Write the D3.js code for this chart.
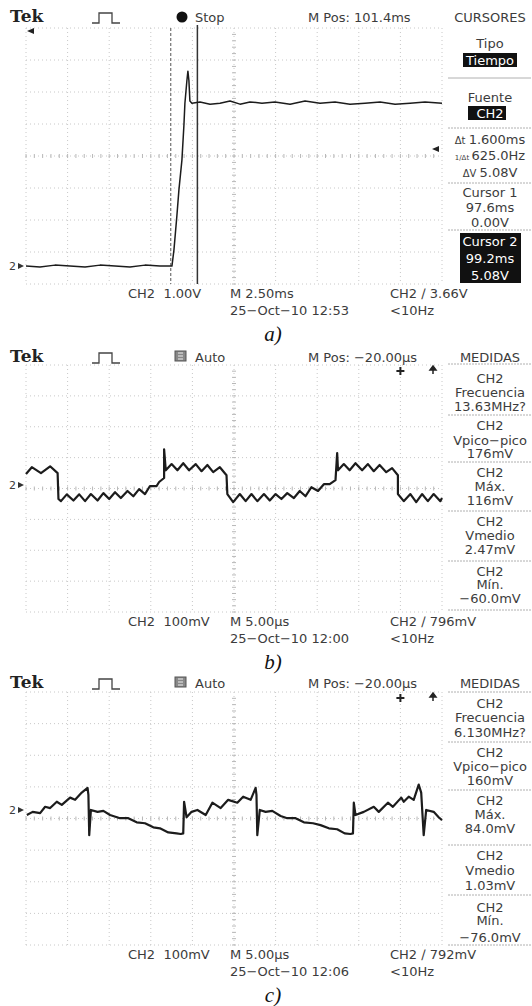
<!DOCTYPE html>
<html lang="es">
  <meta charset="UTF-8" />
  <title>Tek CH2</title>
  <style>
    body { margin: 0; background: #fff; }
    text { font-family: "DejaVu Sans", sans-serif; font-size: 13px; fill: #3c3c3c; white-space: pre; }
  </style>
  <script src="https://d3js.org/d3.v7.min.js"></script>
  <body>
    <div id="chart"></div>
    <script>
      // a) step response, time in ms, CH2 in V
      let traceA = [
        [88.9, 0], [89.74, -0.03], [90.64, 0.03], [91.54, 0], [92.45, -0.03], [93.35, 0.03],
        [94.25, 0], [95.15, -0.03], [96.05, 0.03], [96.95, 0], [97.67, 0],
        [97.79, 0.5], [97.97, 1.59], [98.09, 2.38], [98.27, 3.31], [98.39, 4.4], [98.45, 5.09],
        [98.57, 5.8], [98.63, 6.09], [98.69, 5.8], [98.75, 5.16], [98.87, 5.09],
        [99.36, 5.13], [99.96, 5.06], [100.56, 5.09], [101.16, 5.16], [101.76, 5.06], [102.36, 5.13],
        [103.08, 5.09], [103.86, 5.13], [104.77, 5.06], [105.67, 5.16], [106.57, 5.09], [107.47, 5.13],
        [108.37, 5.06], [109.27, 5.09], [110.18, 5.13], [111.08, 5.06], [111.98, 5.09], [112.88, 5.13],
        [113.9, 5.09]
      ];
      // b) ripple, time in us, CH2 in mV
      let traceB = [
        [-45.0, 36], [-44.3, 58], [-43.2, 39], [-42.1, 61], [-41.2, 39], [-41.1, -45],
        [-40.8, -52], [-40.1, -30], [-39.3, -50], [-38.6, -30], [-37.9, -52], [-37.2, -29], [-36.4, -50],
        [-35.7, -26], [-35.0, -45], [-34.3, -23], [-33.6, -42], [-32.8, -19], [-32.1, -36], [-31.4, -13],
        [-30.7, -29], [-30.1, -3], [-29.3, -3], [-29.0, 10], [-28.4, 23], [-28.4, 116], [-28.2, 48],
        [-27.5, 68], [-26.8, 48], [-26.1, 71], [-25.4, 48], [-24.6, 68], [-23.9, 45], [-23.2, 65],
        [-22.5, 42], [-21.7, 58], [-20.9, 32], [-20.8, -29],
        [-20.1, -55], [-19.3, -29], [-18.6, -52], [-17.9, -29], [-17.2, -52], [-16.4, -29], [-15.7, -50],
        [-15.0, -29], [-14.3, -45], [-13.6, -26], [-12.8, -42], [-12.1, -19], [-11.4, -36], [-10.7, -7],
        [-9.9, -19], [-9.2, 3], [-8.5, 3], [-7.8, 16], [-7.6, 104], [-7.5, 48],
        [-6.8, 68], [-6.1, 48], [-5.4, 71], [-4.6, 48], [-3.9, 68], [-3.2, 45], [-2.5, 65],
        [-1.7, 42], [-1.0, 55], [-0.3, 32], [-0.3, -29],
        [0.4, -52], [1.2, -29], [1.9, -55], [2.6, -29], [3.3, -52], [4.0, -29], [4.8, -52], [5.0, -42]
      ];
      // c) ripple, time in us, CH2 in mV
      let traceC = [
        [-44.9, -16], [-44.2, -6], [-43.3, -10], [-42.7, 10], [-42.1, 6], [-41.3, 26], [-40.7, 16],
        [-39.7, 39], [-39.1, 32], [-38.3, 55], [-37.6, 70], [-37.5, 48], [-37.4, -80], [-37.2, 0],
        [-36.4, -6], [-35.7, -3], [-34.9, -16], [-33.7, -26], [-32.7, -26], [-31.7, -39], [-30.7, -42],
        [-29.7, -55], [-28.9, -58], [-27.9, -71], [-26.9, -74], [-26.4, -76], [-26.1, -74],
        [-26.0, 26], [-25.7, -23], [-25.1, -6], [-24.4, 0], [-23.4, -16], [-22.6, 23], [-21.6, 6],
        [-20.7, 32], [-19.6, 23], [-18.9, 42], [-18.0, 32], [-17.4, 70], [-17.3, 48], [-17.2, -80],
        [-16.9, 0], [-16.2, -6], [-15.4, -3], [-14.4, -19], [-13.6, -26], [-12.6, -26], [-11.6, -39],
        [-10.5, -42], [-9.6, -48], [-8.6, -58], [-7.6, -61], [-6.7, -74], [-6.0, -76], [-5.7, -74],
        [-5.6, 23], [-5.4, -16], [-4.4, -6], [-3.2, 10], [-2.6, -6], [-1.5, 23], [-0.9, 10],
        [0.1, 39], [0.4, 26], [1.0, 42], [1.6, 32], [2.2, 80], [2.5, 55], [2.8, -80], [3.1, 0],
        [4.0, -6], [4.6, -23], [5.0, -32]
      ];
      let cursorsA = [97.6, 99.2]; // ms
      let trigLevelA = 3.66; // V

      let headA = ["Tek", "Stop", "M Pos: 101.4ms", "CURSORES"];
      let headB = ["Tek", "Auto", "M Pos: −20.00µs", "MEDIDAS"];
      let headC = ["Tek", "Auto", "M Pos: −20.00µs", "MEDIDAS"];

      let footA = ["CH2  1.00V", "M 2.50ms", "25−Oct−10 12:53", "CH2 ∕ 3.66V", "<10Hz"];
      let footB = ["CH2  100mV", "M 5.00µs", "25−Oct−10 12:00", "CH2 ∕ 796mV", "<10Hz"];
      let footC = ["CH2  100mV", "M 5.00µs", "25−Oct−10 12:06", "CH2 ∕ 792mV", "<10Hz"];

      let menuA = [
        ["Tipo", "Tiempo"],
        ["Fuente", "CH2"],
        ["Δt 1.600ms", "1/Δt 625.0Hz", "ΔV 5.08V"],
        ["Cursor 1", "97.6ms", "0.00V"],
        ["Cursor 2", "99.2ms", "5.08V"]
      ];
      let measB = [
        ["CH2", "Frecuencia", "13.63MHz?"],
        ["CH2", "Vpico−pico", "176mV"],
        ["CH2", "Máx.", "116mV"],
        ["CH2", "Vmedio", "2.47mV"],
        ["CH2", "Mín.", "−60.0mV"]
      ];
      let measC = [
        ["CH2", "Frecuencia", "6.130MHz?"],
        ["CH2", "Vpico−pico", "160mV"],
        ["CH2", "Máx.", "84.0mV"],
        ["CH2", "Vmedio", "1.03mV"],
        ["CH2", "Mín.", "−76.0mV"]
      ];
      let captions = ["a)", "b)", "c)"];

      // screen layout
      const gridL = 26, gridR = 442, menuX = 490;
      const panels = [
        {
          top: 28, bottom: 284, head: 22, off: -3.44, perDiv: 1, xDomain: [88.9, 113.9],
          trace: traceA, lw: 1.5, headTxt: headA, foot: footA, menu: menuA, caption: captions[0],
          menuY: [[43, 60], [97, 113], [139, 155, 172], [192, 207, 222], [241, 258, 275]],
          sepY: [78, 128, 183, 230],
          boxes: [[463, 517, 53, 67], [468, 506, 106, 120], [460, 521, 233, 283]]
        },
        {
          top: 365, bottom: 612, head: 362, off: 0.11, perDiv: 100, xDomain: [-45, 5],
          trace: traceB, lw: 2.2, headTxt: headB, foot: footB, menu: measB, caption: captions[1],
          menuY: [[378, 392, 406], [425, 440, 453], [472, 486, 500], [521, 535, 549], [571, 584, 598]],
          sepY: [364, 415, 462, 511, 561, 610],
          boxes: []
        },
        {
          top: 692, bottom: 945, head: 688, off: 0.27, perDiv: 100, xDomain: [-45, 5],
          trace: traceC, lw: 2.2, headTxt: headC, foot: footC, menu: measC, caption: captions[2],
          menuY: [[703, 717, 732], [752, 766, 780], [800, 814, 828], [855, 870, 885], [907, 920, 937]],
          sepY: [692, 742, 790, 845, 895, 945],
          boxes: []
        }
      ];

      const svg = d3.select("#chart").append("svg").attr("width", 532).attr("height", 1006);

      function drawScope(p, idx) {
        const g = svg.append("g");
        const divX = d3.scaleLinear().domain([0, 10]).range([gridL, gridR]);
        const divY = d3.scaleLinear().domain([-4, 4]).range([p.bottom, p.top]);
        const x = d3.scaleLinear().domain(p.xDomain).range([gridL, gridR]);
        const y = d3.scaleLinear()
          .domain([(-4 - p.off) * p.perDiv, (4 - p.off) * p.perDiv])
          .range([p.bottom, p.top]);

        // graticule
        const grid = g.append("g").attr("stroke", "#c8c8c8").attr("stroke-width", 1).attr("stroke-dasharray", "1,3");
        grid.selectAll(".gx").data(d3.range(0, 11)).join("line")
          .attr("x1", (d) => divX(d)).attr("x2", (d) => divX(d))
          .attr("y1", p.top).attr("y2", p.bottom);
        grid.selectAll(".gy").data(d3.range(-4, 5)).join("line")
          .attr("x1", gridL).attr("x2", gridR)
          .attr("y1", (d) => divY(d)).attr("y2", (d) => divY(d));
        const ticks = g.append("g").attr("stroke", "#b8b8b8").attr("stroke-width", 1);
        ticks.selectAll(".tx").data(d3.range(0, 50)).join("line")
          .attr("x1", (d) => divX(d / 5)).attr("x2", (d) => divX(d / 5))
          .attr("y1", divY(0) - 2).attr("y2", divY(0) + 2);
        ticks.selectAll(".ty").data(d3.range(-20, 20)).join("line")
          .attr("x1", divX(5) - 2).attr("x2", divX(5) + 2)
          .attr("y1", (d) => divY(d / 5)).attr("y2", (d) => divY(d / 5));

        // cursors
        if (idx === 0) {
          g.append("line").attr("x1", x(cursorsA[0])).attr("x2", x(cursorsA[0]))
            .attr("y1", p.top).attr("y2", p.bottom)
            .attr("stroke", "#555").attr("stroke-dasharray", "3,2");
          g.append("line").attr("x1", x(cursorsA[1])).attr("x2", x(cursorsA[1]))
            .attr("y1", p.top - 3).attr("y2", p.bottom)
            .attr("stroke", "#333").attr("stroke-width", 1.5);
          // trigger level arrow and off-screen trigger position
          const ty = y(trigLevelA);
          g.append("path").attr("d", `M${gridR - 10},${ty} l7,-3 v6 z`).attr("fill", "#222");
          g.append("path").attr("d", `M${gridL + 1},${p.top + 3} l7,-3 v6 z`).attr("fill", "#222");
        } else {
          const tx = x(0);
          g.append("path").attr("d", `M${tx - 4},${p.top + 6} h8 M${tx},${p.top + 2} v8`)
            .attr("stroke", "#222").attr("stroke-width", 2);
          g.append("path").attr("d", `M${gridR - 9},${p.top + 1} l3,4 h-6 z M${gridR - 9},${p.top + 4} v5`)
            .attr("stroke", "#222").attr("fill", "#222").attr("stroke-width", 1.5);
        }

        // waveform
        const line = d3.line().x((d) => x(d[0])).y((d) => y(d[1]));
        g.append("path").datum(p.trace).attr("d", line)
          .attr("fill", "none").attr("stroke", "#1c1c1c")
          .attr("stroke-width", p.lw).attr("stroke-linejoin", "round");

        // channel ground marker
        const zy = y(0);
        g.append("text").attr("x", 9).attr("y", zy + 4).style("font-size", "11px").text("2");
        g.append("path").attr("d", `M18,${zy - 3} l6,3 l-6,3 z`).attr("fill", "#333");

        // header
        const h = p.head;
        g.append("text").attr("x", 10).attr("y", h)
          .style("font-family", "'DejaVu Serif', serif").style("font-weight", "bold")
          .style("font-size", "17px").style("fill", "#222").text(p.headTxt[0]);
        g.append("path").attr("d", `M92,${h + 1} h7 v-10 h13 v10 h8`)
          .attr("fill", "none").attr("stroke", "#444").attr("stroke-width", 1.3);
        if (p.headTxt[1] === "Stop") {
          g.append("circle").attr("cx", 182).attr("cy", h - 5).attr("r", 5.5).attr("fill", "#111");
        } else {
          g.append("rect").attr("x", 175).attr("y", h - 11).attr("width", 11).attr("height", 10)
            .attr("fill", "#888").attr("stroke", "#555");
          g.append("path").attr("d", `M178,${h - 9} h5 M178,${h - 6} h5 M178,${h - 3} h5`)
            .attr("stroke", "#eee").attr("stroke-width", 1);
        }
        g.append("text").attr("x", 195).attr("y", h).text(p.headTxt[1]);
        g.append("text").attr("x", 308).attr("y", h).text(p.headTxt[2]);
        g.append("text").attr("x", menuX).attr("y", h).attr("text-anchor", "middle").text(p.headTxt[3]);

        // menu column
        g.selectAll(".sep").data(p.sepY).join("line")
          .attr("x1", 448).attr("x2", 531).attr("y1", (d) => d).attr("y2", (d) => d)
          .attr("stroke", "#b0b0b0").attr("stroke-width", 1)
          .attr("stroke-dasharray", (d, i) => (idx === 0 && i === 0 ? null : "2,1"));
        g.selectAll(".box").data(p.boxes).join("rect")
          .attr("x", (d) => d[0]).attr("y", (d) => d[2])
          .attr("width", (d) => d[1] - d[0]).attr("height", (d) => d[3] - d[2])
          .attr("fill", "#111");
        p.menu.forEach((grp, gi) => {
          grp.forEach((s, li) => {
            const cy = p.menuY[gi][li];
            const inv = p.boxes.some((b) => cy > b[2] && cy < b[3]);
            const t = g.append("text").attr("x", menuX).attr("y", cy + 4.5)
              .attr("text-anchor", "middle").style("fill", inv ? "#fff" : "#3c3c3c");
            const sp = s.indexOf(" ");
            if (s[0] === "Δ" || s.startsWith("1/Δ")) {
              t.append("tspan").style("font-size", s[0] === "Δ" ? "10px" : "7px").text(s.slice(0, sp + 1));
              t.append("tspan").text(s.slice(sp + 1));
            } else {
              t.text(s);
            }
          });
        });

        // footer
        const f1 = p.bottom + 14, f2 = p.bottom + 31;
        g.append("text").attr("x", 128).attr("y", f1).text(p.foot[0]);
        g.append("text").attr("x", 230).attr("y", f1).text(p.foot[1]);
        g.append("text").attr("x", 230).attr("y", f2).text(p.foot[2]);
        g.append("text").attr("x", 390).attr("y", f1).text(p.foot[3]);
        g.append("text").attr("x", 390).attr("y", f2).text(p.foot[4]);

        // caption
        g.append("text").attr("x", 273).attr("y", p.bottom + 57).attr("text-anchor", "middle")
          .style("font-family", "'Liberation Serif', serif").style("font-style", "italic")
          .style("font-size", "21px").style("fill", "#111").text(p.caption);
      }

      panels.forEach(drawScope);
    </script>
  </body>
</html>
